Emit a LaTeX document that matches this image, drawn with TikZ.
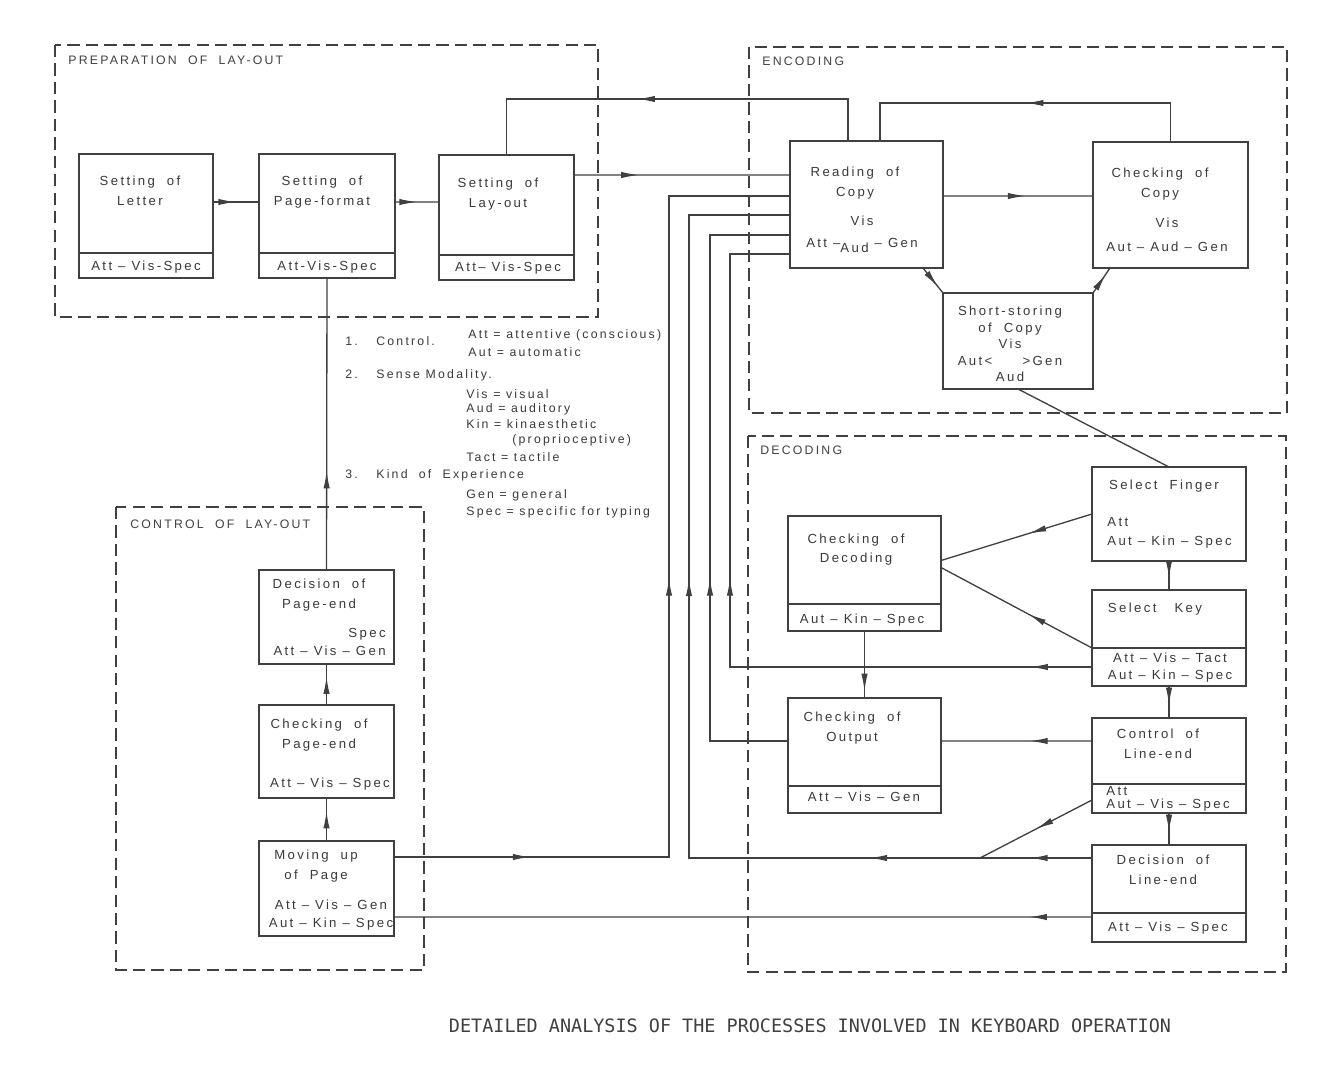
\documentclass[tikz,border=0pt]{standalone}
\usepackage{fontspec}
\setmainfont{Liberation Sans}[LetterSpace=18]
\newfontfamily\capfont{DejaVu Sans Mono}
\usetikzlibrary{positioning,calc,arrows.meta,decorations.markings}
\definecolor{ink}{HTML}{404040}

\tikzset{
  zone/.style={draw=ink, line width=0.8pt, dash pattern=on 7pt off 3.5pt},
  proc/.style={draw=ink, line width=0.9pt, rectangle, inner sep=0pt, outer sep=0pt},
  conn/.style={draw=ink, line width=0.75pt},
  midarr/.style={postaction={decorate, decoration={markings,
      mark=at position #1 with {\arrow[ink]{Latex[length=10pt,width=3.6pt]}}}}},
  note/.style={inner sep=0pt, text=ink!90!black, align=center, font=\fontsize{7.5}{11.3}\selectfont},
  key/.style={inner sep=0pt, text=ink!90!black, font=\fontsize{7}{8}\selectfont},
  zonelabel/.style={inner sep=0pt, text=ink, anchor=base west, font=\fontsize{7}{8}\selectfont},
}

\begin{document}
\begin{tikzpicture}[x=0.2mm, y=-0.2mm]
\useasboundingbox[fill=white] (0,0) rectangle (1328,1091);

% dashed zones
\draw[zone] (55,45) rectangle (598,317);
\draw[zone] (749,47) rectangle (1287,413);
\draw[zone] (748,436) rectangle (1286,972);
\draw[zone] (116,507) rectangle (424,970);
\node[zonelabel] (prepL) at (68,64) {PREPARATION~~OF~~LAY-OUT};
\node[zonelabel] (encL)  at (762,65) {ENCODING};
\node[zonelabel] (decL)  at (760,454) {DECODING};
\node[zonelabel] (ctrlL) at (130,528) {CONTROL~~OF~~LAY-OUT};

% process boxes
\node[proc, minimum width=26.8mm, minimum height=24.8mm] (letter)    at (146,216)   {};
\node[proc, minimum width=27.2mm, minimum height=24.8mm] (pagef)     at (327,216)   {};
\node[proc, minimum width=27mm,   minimum height=25mm]   (layout)    at (506.5,217.5) {};
\node[proc, minimum width=30.6mm, minimum height=25.4mm] (reading)   at (866.5,204.5) {};
\node[proc, minimum width=31mm,   minimum height=25.2mm] (checkcopy) at (1170.5,205) {};
\node[proc, minimum width=30mm,   minimum height=19.2mm] (short)     at (1018,341)   {};
\node[proc, minimum width=30.8mm, minimum height=18.8mm] (selfinger) at (1169,514)   {};
\node[proc, minimum width=30.8mm, minimum height=19.2mm] (selkey)    at (1169,638)   {};
\node[proc, minimum width=30.6mm, minimum height=23mm]   (checkdec)  at (864.5,573.5) {};
\node[proc, minimum width=30.6mm, minimum height=23mm]   (checkout)  at (864.5,755.5) {};
\node[proc, minimum width=30.8mm, minimum height=19mm]   (ctrlline)  at (1169,765.5) {};
\node[proc, minimum width=30.8mm, minimum height=19.4mm] (decline)   at (1169,893.5) {};
\node[proc, minimum width=27mm,   minimum height=18.8mm] (decpage)   at (326.5,617)  {};
\node[proc, minimum width=27mm,   minimum height=18.6mm] (checkpage) at (326.5,751.5) {};
\node[proc, minimum width=27mm,   minimum height=19mm]   (movepage)  at (326.5,888.5) {};

% dividers
\draw[conn] ([yshift=5mm]letter.south west) -- ([yshift=5mm]letter.south east);
\draw[conn] ([yshift=5mm]pagef.south west) -- ([yshift=5mm]pagef.south east);
\draw[conn] ([yshift=5mm]layout.south west) -- ([yshift=5mm]layout.south east);
\draw[conn] ([yshift=7.6mm]selkey.south west) -- ([yshift=7.6mm]selkey.south east);
\draw[conn] ([yshift=5.4mm]checkdec.south west) -- ([yshift=5.4mm]checkdec.south east);
\draw[conn] ([yshift=5.4mm]checkout.south west) -- ([yshift=5.4mm]checkout.south east);
\draw[conn] ([yshift=5.8mm]ctrlline.south west) -- ([yshift=5.8mm]ctrlline.south east);
\draw[conn] ([yshift=5.8mm]decline.south west) -- ([yshift=5.8mm]decline.south east);

% box texts
\node[note, anchor=north] (letterT) at (140,176) {Setting~~of\\Letter};
\node[note, anchor=north] (letterB) at (146,261) {Att -- Vis-Spec};
\node[note, anchor=north] (pagefT)  at (322,176) {Setting~~of\\Page-format};
\node[note, anchor=north] (pagefB)  at (327,261) {Att-Vis-Spec};
\node[note, anchor=north] (layoutT) at (498,178) {Setting~~of\\Lay-out};
\node[note, anchor=north] (layoutB) at (508,262) {Att-- Vis-Spec};
\node[note, anchor=north] (readingT) at (855,167) {Reading~~of\\Copy};
\node[note, anchor=north, font=\fontsize{7.5}{12.5}\selectfont] (readingB) at (862,216)
  {Vis\\Att --\raisebox{-2.5pt}{Aud} -- Gen};
\node[note, anchor=north] (checkcopyT) at (1160,168) {Checking~~of\\Copy};
\node[note, anchor=north, font=\fontsize{7.5}{13.5}\selectfont] (checkcopyB) at (1167,218)
  {Vis\\Aut -- Aud -- Gen};
\node[note, anchor=north, font=\fontsize{7.5}{9.4}\selectfont] (shortT) at (1010,306)
  {Short-storing\\of~~Copy\\Vis\\Aut<~~~~~>Gen\\Aud};
\node[note, anchor=north] (selfingerT) at (1164,480) {Select~~Finger};
\node[note, anchor=north west, align=left, font=\fontsize{7.5}{10.8}\selectfont] (selfingerB) at (1107,517)
  {Att\\Aut -- Kin -- Spec};
\node[note, anchor=north] (selkeyT) at (1155,603) {Select~~~Key};
\node[note, anchor=north, font=\fontsize{7.5}{9.6}\selectfont] (selkeyB) at (1170,653)
  {Att -- Vis -- Tact\\Aut -- Kin -- Spec};
\node[note, anchor=north, font=\fontsize{7.5}{10.8}\selectfont] (checkdecT) at (856,534) {Checking~~of\\Decoding};
\node[note, anchor=north] (checkdecB) at (862,614) {Aut -- Kin -- Spec};
\node[note, anchor=north] (checkoutT) at (852,712) {Checking~~of\\Output};
\node[note, anchor=north] (checkoutB) at (864,792) {Att -- Vis -- Gen};
\node[note, anchor=north] (ctrllineT) at (1158,729) {Control~~of\\Line-end};
\node[note, anchor=north west, align=left, font=\fontsize{7.5}{7.6}\selectfont] (ctrllineB) at (1106,786)
  {Att\\Aut -- Vis -- Spec};
\node[note, anchor=north] (declineT) at (1163,855) {Decision~~of\\Line-end};
\node[note, anchor=north] (declineB) at (1168,922) {Att -- Vis -- Spec};
\node[note, anchor=north] (decpageT) at (319,579) {Decision~~of\\Page-end};
\node[note, anchor=north east, align=right, font=\fontsize{7.5}{10.2}\selectfont] (decpageB) at (386,628)
  {Spec\\Att -- Vis -- Gen};
\node[note, anchor=north] (checkpageT) at (319,719) {Checking~~of\\Page-end};
\node[note, anchor=north] (checkpageB) at (330,778) {Att -- Vis -- Spec};
\node[note, anchor=north] (movepageT) at (316,850) {Moving~~up\\of~~Page};
\node[note, anchor=north, font=\fontsize{7.5}{10.2}\selectfont] (movepageB) at (331,900)
  {Att -- Vis -- Gen\\Aut -- Kin -- Spec};

% key
\node[key, anchor=base west] (k1)  at (345,345) {1.};
\node[key, anchor=base west] (k1t) at (376,345) {Control.};
\node[key, anchor=base west] (k1a) at (468,338) {Att = attentive (conscious)};
\node[key, anchor=base west] (k1b) at (468,356) {Aut = automatic};
\node[key, anchor=base west] (k2)  at (345,378) {2.};
\node[key, anchor=base west] (k2t) at (376,378) {Sense Modality.};
\node[key, anchor=base west] (k2a) at (466,398) {Vis = visual};
\node[key, anchor=base west] (k2b) at (466,412) {Aud = auditory};
\node[key, anchor=base west] (k2c) at (466,428) {Kin = kinaesthetic};
\node[key, anchor=base west] (k2d) at (512,443) {(proprioceptive)};
\node[key, anchor=base west] (k2e) at (466,461) {Tact = tactile};
\node[key, anchor=base west] (k3)  at (345,478) {3.};
\node[key, anchor=base west] (k3t) at (376,478) {Kind~~of~~Experience};
\node[key, anchor=base west] (k3a) at (466,498) {Gen = general};
\node[key, anchor=base west] (k3b) at (466,515) {Spec = specific for typing};

% caption
\node[inner sep=0pt, text=ink, font=\capfont\fontsize{10.5}{12}\selectfont] (caption) at (810,1026)
  {DETAILED ANALYSIS OF THE PROCESSES INVOLVED IN KEYBOARD OPERATION};

% helper coordinates
\coordinate (topA) at (0,99);
\coordinate (topB) at (0,103);
\coordinate (colA) at (669,0);
\coordinate (colB) at (689,0);
\coordinate (colC) at (710,0);
\coordinate (colD) at (730,0);
\coordinate (merge) at (980,858);

% preparation of lay-out
\draw[conn, midarr=0.5] ([yshift=2.8mm]letter.east) -- ([yshift=2.8mm]pagef.west);
\draw[conn, midarr=0.5] ([yshift=2.8mm]pagef.east) -- ([yshift=3.1mm]layout.west);
\draw[conn, midarr=0.3] ([yshift=8.5mm]layout.east) -- ([yshift=5.9mm]reading.west);
\draw[conn, midarr=0.575] ([xshift=-3.7mm]reading.north) -- ([xshift=-3.7mm]reading.north |- topA) -| (layout.north);

% encoding
\draw[conn, midarr=0.5] (checkcopy.north) -- (checkcopy.north |- topB) -| ([xshift=2.7mm]reading.north);
\draw[conn, midarr=0.55] ([yshift=1.7mm]reading.east) -- ([yshift=1.8mm]checkcopy.west);
\draw[conn, midarr=0.75] ([xshift=-4mm]reading.south east) -- (short.north west);
\draw[conn, midarr=0.75] (short.north east) -- ([xshift=3.4mm]checkcopy.south west);
\draw[conn] (short.south) -- (selfinger.north);

% decoding
\draw[conn, midarr=0.42] (selfinger.west) -- ([yshift=2.6mm]checkdec.east);
\draw[conn, midarr=0.42] ([yshift=-2mm]selkey.west) -- ([yshift=1.2mm]checkdec.east);
\draw[conn, midarr=0.6] (selfinger.south) -- (selkey.north);
\draw[conn, midarr=0.6] (selkey.south) -- (ctrlline.north);
\draw[conn, midarr=0.6] (ctrlline.south) -- (decline.north);
\draw[conn, midarr=0.9] (checkdec.south) -- (checkout.north);
\draw[conn, midarr=0.41] ([yshift=4.9mm]ctrlline.west) -- ([yshift=2.9mm]checkout.east);
\draw[conn, midarr=0.5] ([yshift=-6.9mm]ctrlline.west) -- (merge);

% feedback to reading of copy
\draw[conn, midarr=0.074, midarr=0.54] ([yshift=-5.8mm]selkey.west) -- ([yshift=-5.8mm]selkey.west -| colD)
  -- ([yshift=-9.9mm]reading.west -| colD) -- ([yshift=-9.9mm]reading.west);
\draw[conn, midarr=0.363] ([yshift=2.9mm]checkout.west) -- ([yshift=2.9mm]checkout.west -| colC)
  -- ([yshift=-6.1mm]reading.west -| colC) -- ([yshift=-6.1mm]reading.west);
\draw[conn, midarr=0.054, midarr=0.194, midarr=0.595] ([yshift=7.1mm]decline.west) -- ([yshift=7.1mm]decline.west -| colB)
  -- ([yshift=-2.1mm]reading.west -| colB) -- ([yshift=-2.1mm]reading.west);
\draw[conn, midarr=0.129, midarr=0.524] ([yshift=6.3mm]movepage.east) -- ([yshift=6.3mm]movepage.east -| colA)
  -- ([yshift=1.7mm]reading.west -| colA) -- ([yshift=1.7mm]reading.west);
\draw[conn, midarr=0.09] ([yshift=-4.7mm]decline.west) -- ([yshift=-5.7mm]movepage.east);

% control of lay-out
\draw[conn, midarr=0.7] (movepage.north) -- (checkpage.south);
\draw[conn, midarr=0.7] (checkpage.north) -- (decpage.south);
\draw[conn, midarr=0.34] (decpage.north) -- (pagef.south);
\end{tikzpicture}
\end{document}
